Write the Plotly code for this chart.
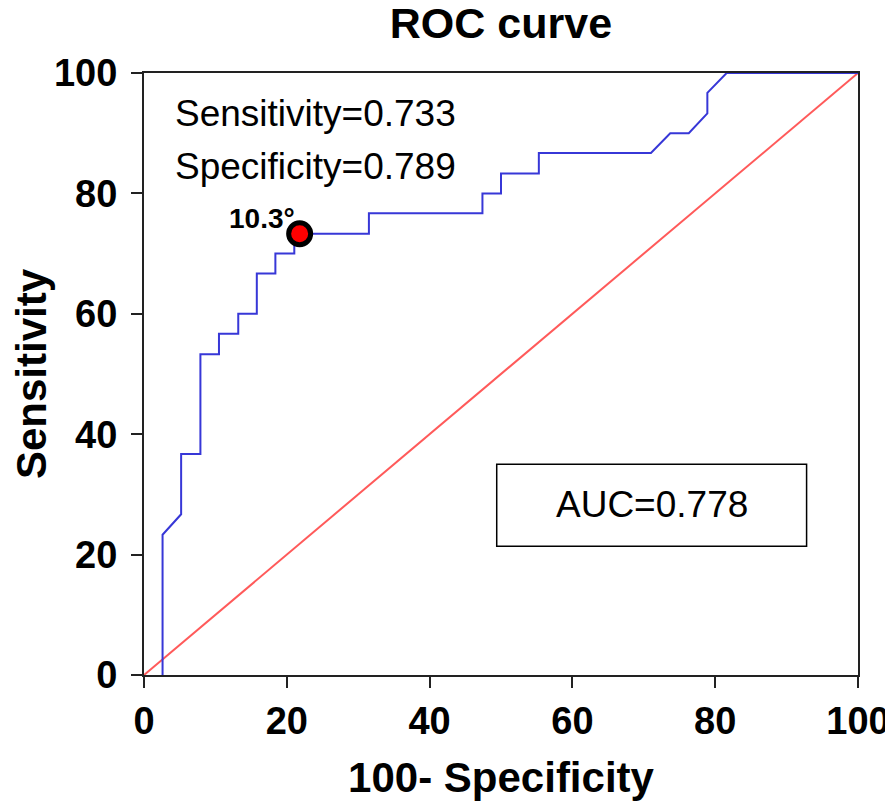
import plotly.graph_objects as go

# ROC curve vertices (100 - specificity, sensitivity)
fpr = [2.6, 2.6, 5.2, 5.2, 7.9, 7.9, 10.5, 10.5, 13.2, 13.2, 15.8, 15.8, 18.4, 18.4,
       21.05, 21.05, 31.5, 31.5, 47.4, 47.4, 50.0, 50.0, 55.3, 55.3, 71.0, 73.7, 76.3,
       78.9, 78.9, 81.6, 100.0]
tpr = [0.0, 23.3, 26.7, 36.7, 36.7, 53.3, 53.3, 56.7, 56.7, 60.0, 60.0, 66.7, 66.7, 70.0,
       70.0, 73.3, 73.3, 76.7, 76.7, 80.0, 80.0, 83.3, 83.3, 86.7, 86.7, 90.0, 90.0,
       93.3, 96.7, 100.0, 100.0]
ref_x = [0, 100]
ref_y = [0, 100]
cut_x = [21.8]
cut_y = [73.3]
cut_label = "10.3°"
sens_text = "Sensitivity=0.733"
spec_text = "Specificity=0.789"
auc_text = "AUC=0.778"
ticks = [0, 20, 40, 60, 80, 100]

FONT = "Liberation Sans, Arial, sans-serif"

fig = go.Figure()
fig.add_trace(go.Scatter(x=ref_x, y=ref_y, mode="lines",
                         line=dict(color="rgb(255,90,90)", width=2), hoverinfo="skip"))
fig.add_trace(go.Scatter(x=fpr, y=tpr, mode="lines",
                         line=dict(color="rgb(55,55,215)", width=2), hoverinfo="skip"))
fig.add_trace(go.Scatter(x=cut_x, y=cut_y, mode="markers",
                         marker=dict(color="red", size=22, line=dict(color="black", width=5))))

fig.add_annotation(x=cut_x[0], y=cut_y[0], xref="x", yref="y", text=f"<b>{cut_label}</b>",
                   showarrow=False, xanchor="right", yanchor="middle", xshift=-3, yshift=15,
                   font=dict(family=FONT, size=28, color="black"))
fig.add_annotation(x=4.0, y=93.2, xref="x", yref="y", text=sens_text, showarrow=False,
                   xanchor="left", yanchor="middle", font=dict(family=FONT, size=37, color="black"))
fig.add_annotation(x=4.0, y=84.5, xref="x", yref="y", text=spec_text, showarrow=False,
                   xanchor="left", yanchor="middle", font=dict(family=FONT, size=37, color="black"))
fig.add_shape(type="rect", x0=49.4, x1=92.8, y0=21.4, y1=35.0, xref="x", yref="y",
              line=dict(color="black", width=1.5), fillcolor="rgba(0,0,0,0)")
fig.add_annotation(x=71.1, y=28.3, xref="x", yref="y", text=auc_text, showarrow=False,
                   xanchor="center", yanchor="middle", font=dict(family=FONT, size=37, color="black"))

axis_common = dict(range=[0, 100], tickvals=ticks, ticktext=[f"<b>{t}</b>" for t in ticks],
                   showgrid=False, zeroline=False, showline=True, linecolor="#222",
                   linewidth=2, mirror=True, ticks="outside", ticklen=11, tickwidth=2,
                   tickcolor="#222", automargin=False,
                   tickfont=dict(family=FONT, size=38, color="black"))

fig.update_layout(
    width=885, height=802,
    margin=dict(l=136, r=35, t=65, b=135),
    paper_bgcolor="white", plot_bgcolor="white",
    showlegend=False,
    title=dict(text="<b>ROC curve</b>", x=0.557, xanchor="center", y=0.981, yanchor="middle",
               font=dict(family=FONT, size=43, color="black")),
    xaxis=dict(**axis_common,
               title=dict(text="<b>100- Specificity</b>", standoff=22,
                          font=dict(family=FONT, size=42, color="black"))),
    yaxis=dict(**axis_common, ticklabelstandoff=6,
               title=dict(text="<b>Sensitivity</b>", standoff=18,
                          font=dict(family=FONT, size=42, color="black"))),
)

fig.write_html("out.html")
